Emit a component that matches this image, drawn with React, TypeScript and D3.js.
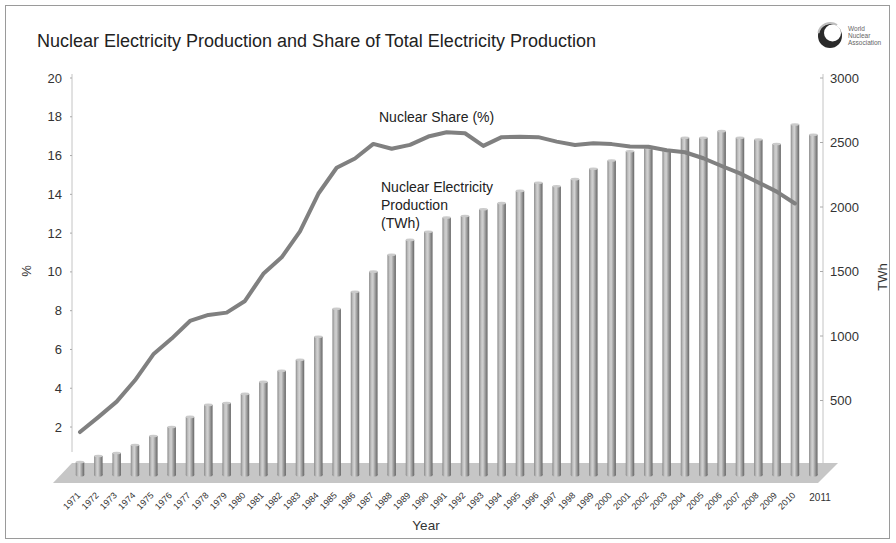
import React from 'react';
import * as d3 from 'd3';

const years = [
  '1971', '1972', '1973', '1974', '1975', '1976', '1977', '1978', '1979', '1980',
  '1981', '1982', '1983', '1984', '1985', '1986', '1987', '1988', '1989', '1990',
  '1991', '1992', '1993', '1994', '1995', '1996', '1997', '1998', '1999', '2000',
  '2001', '2002', '2003', '2004', '2005', '2006', '2007', '2008', '2009', '2010', '2011'
];

// nuclear electricity production, TWh
const production = [
  23, 70, 93, 155, 225, 295, 373, 466, 481, 551,
  644, 730, 815, 994, 1211, 1343, 1499, 1630, 1745, 1808,
  1918, 1930, 1982, 2030, 2125, 2188, 2161, 2216, 2297, 2360,
  2432, 2455, 2435, 2537, 2537, 2588, 2537, 2523, 2488, 2640, 2560
];

// nuclear share of total electricity, % (1971-2010)
const share = [
  1.74, 2.51, 3.31, 4.41, 5.75, 6.56, 7.47, 7.78, 7.9, 8.5,
  9.9, 10.75, 12.09, 14.03, 15.37, 15.85, 16.6, 16.35, 16.55, 16.98,
  17.2, 17.15, 16.5, 16.95, 16.97, 16.95, 16.72, 16.54, 16.63, 16.59,
  16.47, 16.45, 16.27, 16.17, 15.86, 15.46, 15.08, 14.61, 14.14, 13.53
];

const leftTicks = [2, 4, 6, 8, 10, 12, 14, 16, 18, 20];
const rightTicks = [500, 1000, 1500, 2000, 2500, 3000];

const W = 896;
const H = 543;
const font = 'Liberation Sans, Arial, sans-serif';

const App = () => {
  const x = d3.scalePoint<string>().domain(years).range([80, 813.3]);
  const yL = d3.scaleLinear().domain([0, 20]).range([465.8, 78]);
  const yR = d3.scaleLinear().domain([0, 3000]).range([465, 78]);
  const floorY = 475;
  const barW = 8.5;

  const shareLine = d3
    .line<number>()
    .x((d, i) => x(years[i]) as number)
    .y(d => yL(d));

  return (
    <svg
      width={W}
      height={H}
      style={{ position: 'absolute', left: 0, top: 0, background: '#fff' }}
      fontFamily={font}
    >
      <defs>
        <linearGradient id="cyl" x1="0" x2="1" y1="0" y2="0">
          <stop offset="0" stopColor="#8a8a8a" />
          <stop offset="0.25" stopColor="#c2c2c2" />
          <stop offset="0.45" stopColor="#d2d2d2" />
          <stop offset="0.75" stopColor="#969696" />
          <stop offset="1" stopColor="#666" />
        </linearGradient>
      </defs>
      <rect x={5.5} y={5.5} width={884} height={533} fill="#fff" stroke="#9a9a9a" />

      <text x={37} y={47} fontSize={18} fill="#222">
        Nuclear Electricity Production and Share of Total Electricity Production
      </text>

      {/* logo */}
      <g>
        <circle cx={830} cy={36} r={12} fill="#2a2a2a" />
        <circle cx={832.5} cy={33} r={8.5} fill="#fff" />
        <path d="M818.5,33 A12,12 0 0,1 837,25" fill="none" stroke="#bdbdbd" strokeWidth={2} />
        <text x={848} y={31} fontSize={6.5} fill="#666">World</text>
        <text x={848} y={38} fontSize={6.5} fill="#666">Nuclear</text>
        <text x={848} y={45} fontSize={6.5} fill="#666">Association</text>
      </g>

      {/* floor */}
      <polygon points="53,483 72,463 838,463 818,483" fill="#c6c6c6" />

      {/* left axis */}
      <line x1={72} x2={72} y1={74} y2={452} stroke="#c4c4c4" />
      {leftTicks.map(t => (
        <g key={t}>
          <line x1={70} x2={72} y1={yL(t)} y2={yL(t)} stroke="#aaa" />
          <text x={62} y={yL(t) + 4.5} fontSize={13} textAnchor="end" fill="#333">
            {t}
          </text>
        </g>
      ))}
      <text
        transform={`translate(31,271) rotate(-90)`}
        fontSize={13}
        textAnchor="middle"
        fill="#333"
      >
        %
      </text>

      {/* right axis */}
      <line x1={823} x2={823} y1={74} y2={464} stroke="#c4c4c4" />
      {rightTicks.map(t => (
        <g key={t}>
          <line x1={820} x2={823} y1={yR(t)} y2={yR(t)} stroke="#aaa" />
          <text x={830} y={yR(t) + 4.5} fontSize={13} fill="#333">
            {t}
          </text>
        </g>
      ))}
      <text
        transform={`translate(887,277) rotate(-90)`}
        fontSize={13}
        textAnchor="middle"
        fill="#333"
      >
        TWh
      </text>

      {/* bars */}
      {production.map((v, i) => {
        const cx = x(years[i]) as number;
        const top = yR(v);
        return (
          <g key={years[i]}>
            <rect x={cx - barW / 2} y={top} width={barW} height={floorY - top} fill="url(#cyl)" />
            <ellipse cx={cx} cy={floorY} rx={barW / 2} ry={1.5} fill="url(#cyl)" />
            <ellipse cx={cx} cy={top} rx={barW / 2} ry={1.3} fill="#cbcbcb" />
          </g>
        );
      })}

      {/* share line */}
      <path
        d={shareLine(share) || ''}
        fill="none"
        stroke="#808080"
        strokeWidth={4}
        strokeLinejoin="round"
        strokeLinecap="round"
      />

      {/* annotations */}
      <text x={379} y={122} fontSize={14} fill="#222">Nuclear Share (%)</text>
      <text x={381} y={192} fontSize={14} fill="#222">Nuclear Electricity</text>
      <text x={381} y={210} fontSize={14} fill="#222">Production</text>
      <text x={381} y={228} fontSize={14} fill="#222">(TWh)</text>

      {/* year labels */}
      {years.map((yr, i) =>
        i < years.length - 1 ? (
          <text
            key={yr}
            transform={`translate(${(x(yr) as number) + 1},496) rotate(-45)`}
            fontSize={9}
            textAnchor="end"
            fill="#333"
          >
            {yr}
          </text>
        ) : (
          <text key={yr} x={(x(yr) as number) - 4} y={501} fontSize={10} fill="#333">
            {yr}
          </text>
        )
      )}
      <text x={426} y={530} fontSize={13.5} textAnchor="middle" fill="#333">
        Year
      </text>
    </svg>
  );
};

export default App;
